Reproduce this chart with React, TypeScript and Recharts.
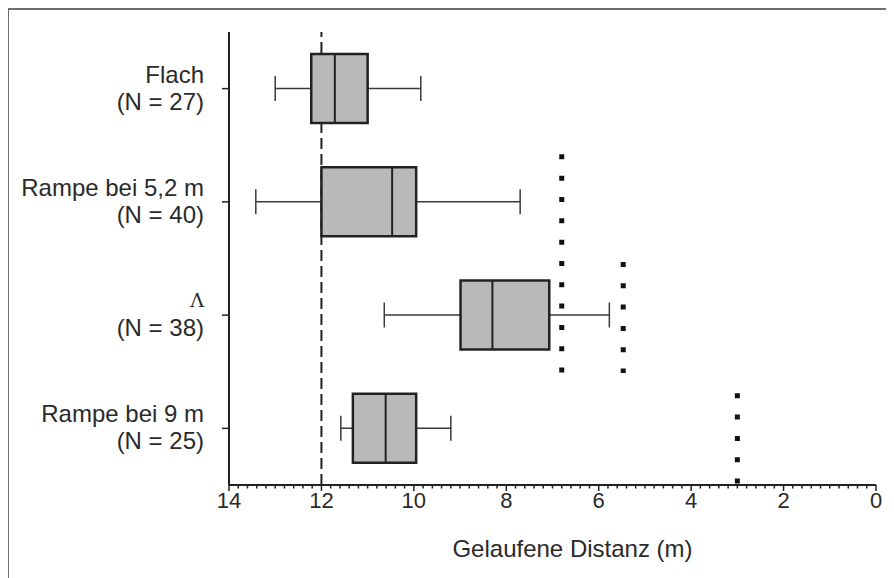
import React from 'react';
import { ComposedChart, Bar, XAxis, YAxis, ReferenceLine, Label } from 'recharts';

const categories = ['Flach', 'Rampe bei 5,2 m', 'Λ', 'Rampe bei 9 m'];
const sampleSizes = [27, 40, 38, 25];
const upperWhisker = [13.0, 13.42, 10.64, 11.58];
const upperQuartile = [12.22, 12.0, 8.99, 11.32];
const medians = [11.71, 10.47, 8.3, 10.61];
const lowerQuartile = [11.0, 9.95, 7.07, 9.95];
const lowerWhisker = [9.85, 7.7, 5.77, 9.2];

const majorTicks = [0, 2, 4, 6, 8, 10, 12, 14];
const minorStep = 0.2;
const referenceDistance = 12;

// dotted markers: distance, and vertical span in rows (0 = top of plot, 4 = bottom)
const markerX = [6.8, 5.47, 3.0];
const markerFrom = [1.08, 2.03, 3.19];
const markerTo = [3.01, 3.01, 3.99];
const ROWS = categories.length;

const data = categories.map((name, i) => ({
  name,
  n: sampleSizes[i],
  range: [lowerWhisker[i], upperWhisker[i]],
  uw: upperWhisker[i],
  uq: upperQuartile[i],
  med: medians[i],
  lq: lowerQuartile[i],
  lw: lowerWhisker[i],
}));

const allTicks = Array.from({ length: 71 }, (_, i) => +(i * minorStep).toFixed(1));

const FONT = '"Liberation Sans", Arial, sans-serif';
const INK = '#2a2a2a';

const XTick = (props: any) => {
  const { x, y, payload } = props;
  const v = payload.value;
  const major = majorTicks.includes(v);
  return (
    <g>
      <line x1={x} x2={x} y1={y} y2={y + (major ? 6 : 3.5)} stroke="#222" strokeWidth={1.5} />
      {major && (
        <text x={x} y={y + 22.5} textAnchor="middle" fontSize={22} fontFamily={FONT} fill={INK}>
          {v}
        </text>
      )}
    </g>
  );
};

const YTick = (props: any) => {
  const { x, y, payload } = props;
  const i = categories.indexOf(payload.value);
  const isLambda = payload.value === 'Λ';
  return (
    <g>
      <text
        x={x}
        y={y + (isLambda ? -8 : -6)}
        textAnchor="end"
        fontSize={isLambda ? 19 : 24}
        fontFamily={isLambda ? '"DejaVu Serif", "Liberation Serif", serif' : FONT}
        fill={INK}
      >
        {payload.value}
      </text>
      <text x={x} y={y + 21} textAnchor="end" fontSize={24} fontFamily={FONT} fill={INK}>
        {`(N = ${sampleSizes[i]})`}
      </text>
    </g>
  );
};

const BoxShape = (props: any) => {
  const { x, y, width, height, payload } = props;
  const left = Math.min(x, x + width);
  const right = Math.max(x, x + width);
  const px = (v: number) => left + ((payload.uw - v) / (payload.uw - payload.lw)) * (right - left);
  const cy = y + height / 2;
  const cap = 12.5;
  const boxL = px(payload.uq);
  const boxR = px(payload.lq);
  return (
    <g>
      <line x1={left} x2={boxL} y1={cy} y2={cy} stroke="#3a3a3a" strokeWidth={1.5} />
      <line x1={boxR} x2={right} y1={cy} y2={cy} stroke="#3a3a3a" strokeWidth={1.5} />
      <line x1={left} x2={left} y1={cy - cap} y2={cy + cap} stroke="#3a3a3a" strokeWidth={1.5} />
      <line x1={right} x2={right} y1={cy - cap} y2={cy + cap} stroke="#3a3a3a" strokeWidth={1.5} />
      <rect x={boxL} y={y} width={boxR - boxL} height={height} fill="#b9b9b9" stroke="#222" strokeWidth={2.5} />
      <line x1={px(payload.med)} x2={px(payload.med)} y1={y} y2={y + height} stroke="#222" strokeWidth={2} />
    </g>
  );
};

// dotted vertical marker covering only part of the plot height
const markerShape = (from: number, to: number) => (props: any) => {
  const { x1, y1, y2 } = props;
  const top = Math.min(y1, y2);
  const h = Math.abs(y2 - y1);
  return (
    <line
      x1={x1}
      x2={x1}
      y1={top + (from / ROWS) * h}
      y2={top + (to / ROWS) * h}
      stroke="#111"
      strokeWidth={5}
      strokeDasharray="5 16.33"
    />
  );
};

export default function App() {
  return (
    <div style={{ position: 'relative', width: 886, height: 570 }}>
      <div
        style={{
          position: 'absolute',
          left: -1,
          top: 0,
          width: 887,
          height: 570,
          borderTop: '2px solid #6e6e6e',
          borderLeft: '2px solid #6e6e6e',
          boxSizing: 'border-box',
          pointerEvents: 'none',
        }}
      />
      <ComposedChart
        width={886}
        height={570}
        data={data}
        layout="vertical"
        margin={{ top: 24, right: 18, bottom: 0, left: 0 }}
      >
        <XAxis
          type="number"
          domain={[0, 14]}
          reversed
          allowDataOverflow
          ticks={allTicks}
          interval={0}
          tick={<XTick />}
          tickSize={0}
          tickMargin={0}
          tickLine={false}
          axisLine={{ stroke: '#222', strokeWidth: 2 }}
          height={93}
        >
          <Label
            value="Gelaufene Distanz (m)"
            position="insideTop"
            offset={55}
            dx={20}
            fontSize={24}
            fontFamily={FONT}
            fill={INK}
          />
        </XAxis>
        <YAxis
          type="category"
          dataKey="name"
          width={221}
          interval={0}
          tick={<YTick />}
          tickSize={7}
          tickMargin={18}
          tickLine={{ stroke: '#222', strokeWidth: 1.5 }}
          axisLine={{ stroke: '#222', strokeWidth: 2 }}
        />
        <ReferenceLine
          x={referenceDistance}
          stroke="#222"
          strokeWidth={2}
          strokeDasharray="11 5"
          zIndex={50}
        />
        {markerX.map((mx, i) => (
          <ReferenceLine key={mx} x={mx} shape={markerShape(markerFrom[i], markerTo[i])} />
        ))}
        <Bar dataKey="range" barSize={69} shape={<BoxShape />} isAnimationActive={false} zIndex={300} />
      </ComposedChart>
    </div>
  );
}
